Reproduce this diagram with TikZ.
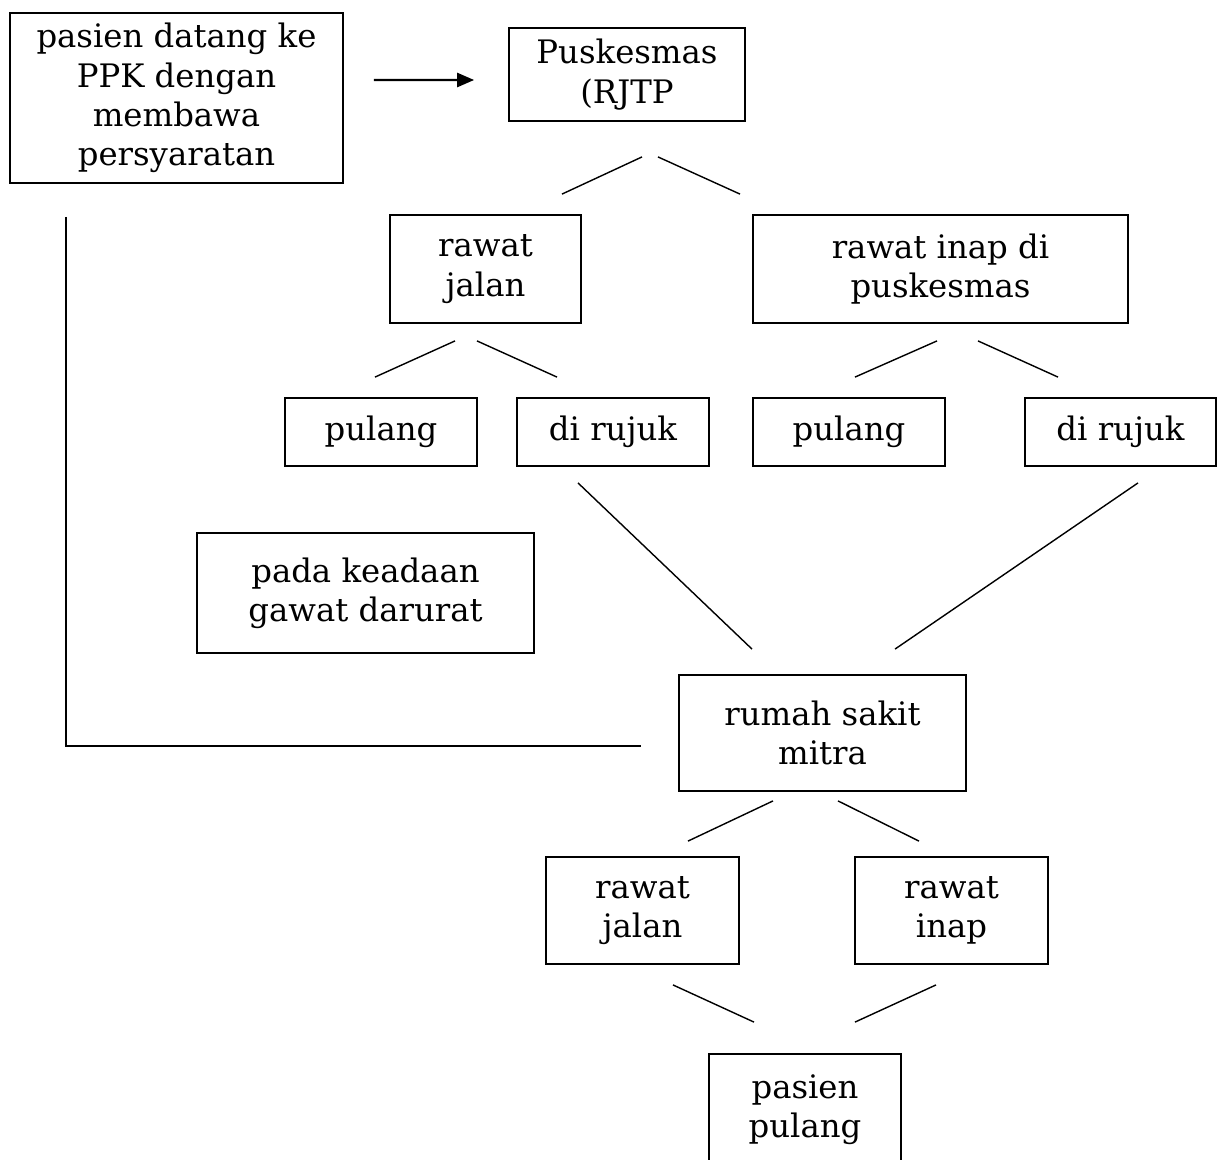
\documentclass[tikz,border=0pt]{standalone}
\usepackage{fontspec}
\setmainfont{DejaVu Serif}
\usepackage{tikz}
\usetikzlibrary{positioning}
\usetikzlibrary{shapes,arrows,arrows.meta}
\usetikzlibrary{calc}
\def\sat{0.025cm}
\begin{document}
\begin{tikzpicture}[x=0.025cm, y=-0.025cm,
  kotak/.style={draw, line width=1.3pt, align=center, inner sep=0pt, font=\fontsize{23}{28}\selectfont},
  garis/.style={line width=1pt}]
\useasboundingbox (0,0) rectangle (1217,1159);

\node[kotak, minimum width=333*\sat, minimum height=170*\sat] (datang) at (176.5,98) {pasien datang ke\\PPK dengan\\membawa\\persyaratan};
\node[kotak, minimum width=236*\sat, minimum height=93*\sat] (pusk) at (627,74.5) {Puskesmas\\(RJTP};
\node[kotak, minimum width=191*\sat, minimum height=108*\sat] (jalanA) at (485.5,269) {rawat\\jalan};
\node[kotak, minimum width=375*\sat, minimum height=108*\sat] (inapA) at (940.5,269) {rawat inap di\\puskesmas};
\node[kotak, minimum width=192*\sat, minimum height=68*\sat] (pulangA) at (381,432) {pulang};
\node[kotak, minimum width=192*\sat, minimum height=68*\sat] (rujukA) at (613,432) {di rujuk};
\node[kotak, minimum width=192*\sat, minimum height=68*\sat] (pulangB) at (849,432) {pulang};
\node[kotak, minimum width=191*\sat, minimum height=68*\sat] (rujukB) at (1120.5,432) {di rujuk};
\node[kotak, minimum width=337*\sat, minimum height=120*\sat] (darurat) at (365.5,593) {pada keadaan\\gawat darurat};
\node[kotak, minimum width=287*\sat, minimum height=116*\sat] (rs) at (822.5,733) {rumah sakit\\mitra};
\node[kotak, minimum width=193*\sat, minimum height=107*\sat] (jalanB) at (642.5,910.5) {rawat\\jalan};
\node[kotak, minimum width=193*\sat, minimum height=107*\sat] (inapB) at (951.5,910.5) {rawat\\inap};
\node[kotak, minimum width=192*\sat, minimum height=111*\sat] (pp) at (805,1109.5) {pasien\\pulang};

\draw[line width=1.5pt, -{Triangle[length=12pt,width=10pt]}] ($(datang.east)+(30,-18)$) -- ($(pusk.west)+(-34,5.5)$);

\draw[garis] ($(pusk.south)+(15,35)$) -- ($(jalanA.north)+(76.5,-20)$);
\draw[garis] ($(pusk.south)+(31,35)$) -- ($(inapA.north)+(-200.5,-20)$);
\draw[garis] ($(jalanA.south)+(-30.5,17)$) -- ($(pulangA.north)+(-6,-20)$);
\draw[garis] ($(jalanA.south)+(-8.5,17)$) -- ($(rujukA.north)+(-56,-20)$);
\draw[garis] ($(inapA.south)+(-3.5,17)$) -- ($(pulangB.north)+(6,-20)$);
\draw[garis] ($(inapA.south)+(37.5,17)$) -- ($(rujukB.north)+(-62.5,-20)$);
\draw[garis] ($(rujukA.south)+(-35,16)$) -- ($(rs.north)+(-70.5,-25)$);
\draw[garis] ($(rujukB.south)+(17.5,16)$) -- ($(rs.north)+(72.5,-25)$);
\draw[garis] ($(datang.south)+(-110.5,33)$) |- ($(rs.west)+(-37,13)$);
\draw[garis] ($(rs.south)+(-49.5,9)$) -- ($(jalanB.north)+(45.5,-15)$);
\draw[garis] ($(rs.south)+(15.5,9)$) -- ($(inapB.north)+(-32.5,-15)$);
\draw[garis] ($(jalanB.south)+(30.5,20)$) -- ($(pp.north)+(-51,-31)$);
\draw[garis] ($(inapB.south)+(-15.5,20)$) -- ($(pp.north)+(50,-31)$);
\end{tikzpicture}
\end{document}
